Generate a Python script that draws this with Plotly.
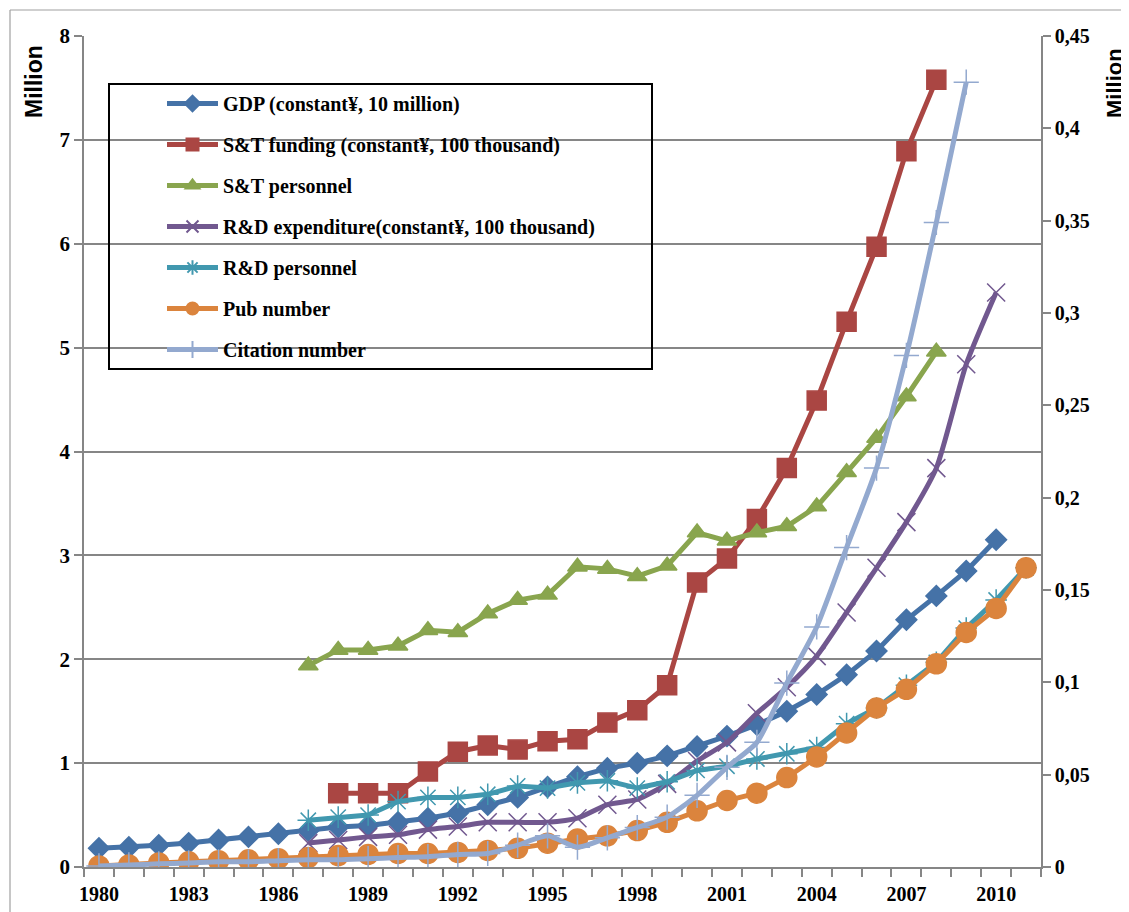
import plotly.graph_objects as go

years = list(range(1980, 2012))
N = None

gdp = [0.18, 0.19, 0.21, 0.23, 0.26, 0.29, 0.32, 0.35, 0.385, 0.40, 0.43, 0.47, 0.52, 0.60, 0.67, 0.77,
       0.87, 0.95, 1.00, 1.07, 1.16, 1.26, 1.37, 1.50, 1.66, 1.85, 2.08, 2.38, 2.61, 2.85, 3.15, N]
st_funding = [N] * 8 + [0.71, 0.71, 0.71, 0.92, 1.11, 1.17, 1.13, 1.21, 1.23, 1.39, 1.51, 1.75, 2.74,
                        2.97, 3.35, 3.84, 4.49, 5.25, 5.97, 6.89, 7.58] + [N] * 3
st_personnel = [N] * 7 + [1.94, 2.09, 2.09, 2.13, 2.28, 2.26, 2.44, 2.57, 2.62, 2.89, 2.87, 2.80, 2.90,
                          3.22, 3.14, 3.22, 3.28, 3.47, 3.80, 4.13, 4.53, 4.96] + [N] * 3
rd_expenditure = [N] * 7 + [0.23, 0.26, 0.29, 0.31, 0.36, 0.39, 0.43, 0.43, 0.43, 0.47, 0.60, 0.65, 0.80,
                            1.02, 1.20, 1.48, 1.73, 2.03, 2.45, 2.88, 3.32, 3.84, 4.84, 5.53] + [N]
rd_personnel = [0.0] + [N] * 6 + [0.45, 0.48, 0.50, 0.63, 0.67, 0.67, 0.70, 0.78, 0.76, 0.81, 0.83, 0.76,
                                  0.82, 0.93, 0.97, 1.04, 1.09, 1.15, 1.38, 1.53, 1.75, 1.97, 2.30, 2.57, 2.88]
pub_number = [0.0006, 0.0011, 0.0022, 0.0028, 0.0034, 0.0039, 0.0045, 0.0051, 0.0062, 0.0068, 0.0073,
              0.0073, 0.0079, 0.0090, 0.0101, 0.0129, 0.0152, 0.0169, 0.0197, 0.0242, 0.0304, 0.0360,
              0.0400, 0.0484, 0.0596, 0.0726, 0.0861, 0.0962, 0.1100, 0.1270, 0.1400, 0.1620]
citation_number = [0.0006, 0.0011, 0.0017, 0.0022, 0.0028, 0.0028, 0.0034, 0.0039, 0.0039, 0.0045, 0.0051,
                   0.0056, 0.0068, 0.0073, 0.0118, 0.0169, 0.0107, 0.0158, 0.0214, 0.0270, 0.0388, 0.0540,
                   0.0675, 0.0996, 0.1300, 0.1730, 0.2160, 0.2770, 0.3490, 0.4250, N, N]

names = ["GDP (constant¥, 10 million)", "S&T funding (constant¥, 100 thousand)", "S&T personnel",
         "R&D expenditure(constant¥, 100 thousand)", "R&D personnel", "Pub number", "Citation number"]

left_ticks = [0, 1, 2, 3, 4, 5, 6, 7, 8]
right_ticks = [0, 0.05, 0.1, 0.15, 0.2, 0.25, 0.3, 0.35, 0.4, 0.45]
right_ticktext = ["0", "0,05", "0,1", "0,15", "0,2", "0,25", "0,3", "0,35", "0,4", "0,45"]
x_ticks = [1980, 1983, 1986, 1989, 1992, 1995, 1998, 2001, 2004, 2007, 2010]

serif = "Liberation Serif"
sans = "Liberation Sans"

fig = go.Figure()

specs = [
    (gdp, "#4572A7", "diamond", 16, "y", "linear"),
    (st_funding, "#AA4643", "square", 19, "y", "linear"),
    (st_personnel, "#89A54E", "triangle-up", 17, "y", "linear"),
    (rd_expenditure, "#71588F", "x-thin-open", 18, "y", "spline"),
    (rd_personnel, "#4198AF", "asterisk-open", 18, "y", "linear"),
    (pub_number, "#DB843D", "circle", 20, "y2", "linear"),
    (citation_number, "#93A9CF", "cross-thin-open", 18, "y2", "spline"),
]

for i, (vals, col, sym, sz, ax, shape) in enumerate(specs):
    fig.add_trace(go.Scatter(
        x=years, y=vals, name=names[i], yaxis=ax, mode="lines+markers",
        line=dict(color=col, width=5, shape=shape, smoothing=0.6 if shape == "spline" else None),
        marker=dict(symbol=sym, size=sz, color=col, line=dict(color=col, width=1.5)),
        legendgroup="g%d" % i, connectgaps=False,
    ))

# page has an 8px body margin: figure starts at screen (8, 8)
OFF = 8
SL, SR, ST, SB = 84, 1041, 36, 867      # plot area in screen pixels
W, H = 1129 - OFF, 912 - OFF
L, T = SL - OFF, ST - OFF
R, B = 1129 - SR, 912 - SB
pw, ph = SR - SL, SB - ST

def px(x):
    return (x - SL) / pw

def py(y):
    return (SB - y) / ph

fig.update_layout(
    width=W, height=H,
    margin=dict(l=L, r=R, t=T, b=B, autoexpand=False),
    paper_bgcolor="white", plot_bgcolor="white",
    showlegend=True,
    legend=dict(
        x=px(162), y=py(84), xanchor="left", yanchor="top",
        bgcolor="rgba(0,0,0,0)", borderwidth=0,
        font=dict(family=serif, size=20, color="black", weight="bold"),
        tracegroupgap=12, traceorder="grouped", itemsizing="constant", itemwidth=51,
    ),
    xaxis=dict(
        range=[1979.5, 2011.5], tickmode="array", tickvals=x_ticks,
        ticktext=[str(v) for v in x_ticks], automargin=False,
        ticks="outside", ticklen=0, tickcolor="#868686",
        minor=dict(tick0=1979.5, dtick=1, ticks="outside", ticklen=8, tickcolor="#868686", tickwidth=1.5),
        showline=True, linecolor="#868686", linewidth=1.5, showgrid=False, zeroline=False,
        tickfont=dict(family=serif, size=20, color="black", weight="bold"),
        ticklabelstandoff=8,
    ),
    yaxis=dict(
        range=[0, 8], tickmode="array", tickvals=left_ticks, ticktext=[str(v) for v in left_ticks],
        ticks="outside", ticklen=8, tickcolor="#868686", tickwidth=1.5, automargin=False,
        showline=True, linecolor="#868686", linewidth=1.5,
        showgrid=True, gridcolor="#868686", gridwidth=1.5, zeroline=False,
        tickfont=dict(family=serif, size=21, color="black", weight="bold"),
    ),
    yaxis2=dict(
        range=[0, 0.45], overlaying="y", side="right", tickmode="array",
        tickvals=right_ticks, ticktext=right_ticktext, automargin=False,
        ticks="outside", ticklen=8, tickcolor="#868686", tickwidth=1.5,
        showline=True, linecolor="#868686", linewidth=1.5, showgrid=False, zeroline=False,
        tickfont=dict(family=serif, size=20, color="black", weight="bold"),
    ),
    shapes=[
        dict(type="rect", xref="paper", yref="paper", x0=px(109), x1=px(652), y0=py(84), y1=py(369),
             line=dict(color="black", width=2), fillcolor="rgba(0,0,0,0)", layer="above"),
        dict(type="line", xref="paper", yref="paper", x0=px(10), x1=px(1135), y0=py(10), y1=py(10),
             line=dict(color="#A0A0A0", width=1.2)),
        dict(type="line", xref="paper", yref="paper", x0=px(10), x1=px(10), y0=py(10), y1=py(920),
             line=dict(color="#A0A0A0", width=1.2)),
    ],
    annotations=[
        dict(text="Million", xref="paper", yref="paper", x=px(34), y=py(82), textangle=-90,
             showarrow=False, xanchor="center", yanchor="middle",
             font=dict(family=sans, size=23, color="black", weight="bold")),
        dict(text="Million", xref="paper", yref="paper", x=px(1115), y=py(83), textangle=-90,
             showarrow=False, xanchor="center", yanchor="middle",
             font=dict(family=sans, size=22, color="black", weight="bold")),
    ],
)

fig.write_html("out.html")
